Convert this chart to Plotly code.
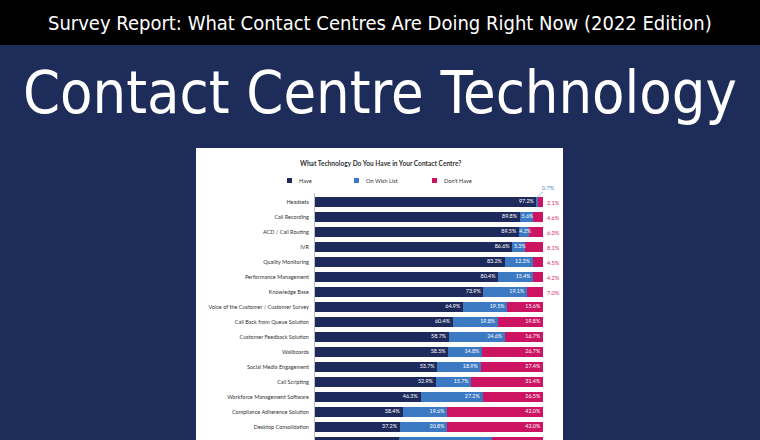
import plotly.graph_objects as go

W, H = 760, 440

categories = [
    "Headsets", "Call Recording", "ACD / Call Routing", "IVR", "Quality Monitoring",
    "Performance Management", "Knowledge Base", "Voice of the Customer / Customer Survey",
    "Call Back from Queue Solution", "Customer Feedback Solution", "Wallboards",
    "Social Media Engagement", "Call Scripting", "Workforce Management Software",
    "Compliance Adherence Solution", "Desktop Consolidation", "Speech Analytics",
]
have = [97.2, 89.8, 89.5, 86.6, 83.2, 80.4, 73.9, 64.9, 60.4, 58.7, 58.5, 53.7, 52.9, 46.3, 38.4, 37.2, 36.8]
wish = [0.7, 5.6, 4.2, 5.3, 12.3, 15.4, 19.1, 19.5, 19.8, 24.6, 14.8, 18.9, 15.7, 27.2, 19.6, 20.8, 40.8]
dont = [2.1, 4.6, 6.3, 8.1, 4.5, 4.2, 7.0, 15.6, 19.8, 16.7, 26.7, 27.4, 31.4, 26.5, 42.0, 42.0, 22.4]
series_names = ["Have", "On Wish List", "Don't Have"]

C_HAVE = "#1f2a5c"
C_WISH = "#3b79c3"
C_DONT = "#cc1463"
C_DONT_TXT = "#d42a72"
C_WISH_TXT = "#4a86c8"
BG = "#1e2c59"
FONT = "Lato, Open Sans, sans-serif"
LBL = 5.4

Y_RANGE = [15.867, -0.6]   # the chart is cropped at the bottom of the picture

def px(x):
    return x / W

def py(y):
    return 1 - y / H

fig = go.Figure()
for name, vals, col in zip(series_names, [have, wish, dont], [C_HAVE, C_WISH, C_DONT]):
    fig.add_trace(go.Bar(
        y=categories, x=vals, name=name, orientation="h",
        marker=dict(color=col, line=dict(width=0)), width=0.7,
        hoverinfo="x+y", showlegend=False,
    ))

lab_font = dict(family=FONT, size=LBL, color="white")

# value labels only for rows fully visible in the cropped view
visible = [i for i in range(len(categories)) if i + 0.5 <= Y_RANGE[0]]
cum_wish = [h + w for h, w in zip(have, wish)]
end_x, end_y, end_t = [], [], []      # right-aligned at segment end
mid_x, mid_y, mid_t = [], [], []      # centred on narrow segments
for i in visible:
    c = categories[i]
    end_x.append(have[i] - 1.2); end_y.append(c); end_t.append(f"{have[i]:.1f}%")
    if wish[i] >= 9:
        end_x.append(cum_wish[i] - 1.2); end_y.append(c); end_t.append(f"{wish[i]:.1f}%")
    elif wish[i] >= 1:
        mid_x.append(have[i] + wish[i] / 2 + 0.6); mid_y.append(c); mid_t.append(f"{wish[i]:.1f}%")
    if dont[i] >= 10:
        end_x.append(100 - 1.2); end_y.append(c); end_t.append(f"{dont[i]:.1f}%")
fig.add_trace(go.Scatter(
    x=end_x, y=end_y, text=end_t, mode="text",
    textposition="middle left", textfont=lab_font, showlegend=False, hoverinfo="skip",
))
fig.add_trace(go.Scatter(
    x=mid_x, y=mid_y, text=mid_t, mode="text",
    textposition="middle center", textfont=lab_font, showlegend=False, hoverinfo="skip",
))

shapes = [
    dict(type="rect", xref="paper", yref="paper", x0=0, x1=1, y0=py(45), y1=1,
         fillcolor="black", line=dict(width=0), layer="below"),
    dict(type="rect", xref="paper", yref="paper", x0=px(196), x1=px(563), y0=0, y1=py(148),
         fillcolor="white", line=dict(width=0), layer="below"),
]
annotations = [
    dict(text="Survey Report: What Contact Centres Are Doing Right Now (2022 Edition)",
         xref="paper", yref="paper", x=0.5, y=py(23), xanchor="center", yanchor="middle",
         showarrow=False, font=dict(family="DejaVu Sans Condensed, DejaVu Sans", size=20, color="white")),
    dict(text="Contact Centre Technology",
         xref="paper", yref="paper", x=0.5, y=py(92), xanchor="center", yanchor="middle",
         showarrow=False, font=dict(family="DejaVu Sans Condensed, DejaVu Sans", size=59, color="white")),
    dict(text="<b>What Technology Do You Have in Your Contact Centre?</b>",
         xref="paper", yref="paper", x=px(380), y=py(163), xanchor="center", yanchor="middle",
         showarrow=False, font=dict(family=FONT, size=6.6, color="#333333")),
]
legend_pos = [(287, 297), (354, 364), (432, 442)]
for (sx, tx), name, col in zip(legend_pos, series_names, [C_HAVE, C_WISH, C_DONT]):
    shapes.append(dict(type="rect", xref="paper", yref="paper", x0=px(sx), x1=px(sx + 5),
                       y0=py(183), y1=py(178), fillcolor=col, line=dict(width=0)))
    annotations.append(dict(text=name, xref="paper", yref="paper", x=px(tx), y=py(180.5),
                            xanchor="left", yanchor="middle", showarrow=False,
                            font=dict(family=FONT, size=5.6, color="#333333")))
# small "don't have" values sit outside the bar end
for i in visible:
    if dont[i] < 10:
        annotations.append(dict(text=f"{dont[i]:.1f}%", x=100, y=categories[i], xref="x", yref="y",
                                xanchor="left", yanchor="middle", xshift=2, showarrow=False,
                                font=dict(family=FONT, size=LBL + 0.2, color=C_DONT_TXT)))
# very small wish-list value on first row, called out with a leader line
annotations.append(dict(text=f"{wish[0]:.1f}%", x=have[0] + wish[0] / 2, y=categories[0], xref="x", yref="y",
                        yshift=5, ax=11, ay=-10, showarrow=True, arrowhead=0, arrowwidth=0.6,
                        arrowcolor=C_WISH_TXT,
                        font=dict(family=FONT, size=LBL + 0.2, color=C_WISH_TXT)))

fig.update_layout(
    width=W, height=H, margin=dict(l=0, r=0, t=0, b=0),
    paper_bgcolor=BG, plot_bgcolor="rgba(0,0,0,0)",
    barmode="stack", showlegend=False,
    shapes=shapes, annotations=annotations,
    xaxis=dict(domain=[px(315), px(543)], range=[0, 100], visible=False, fixedrange=True),
    yaxis=dict(domain=[0, py(193)], range=Y_RANGE, type="category",
               categoryorder="array", categoryarray=categories,
               showline=True, linecolor="#bdbdbd", linewidth=1, ticks="", showgrid=False,
               ticklabelstandoff=4, fixedrange=True,
               tickfont=dict(family=FONT, size=5.5, color="#333333")),
)
fig.write_html("out.html", config={"displayModeBar": False},
               post_script="document.body.style.margin='0';document.body.style.overflow='hidden';")
